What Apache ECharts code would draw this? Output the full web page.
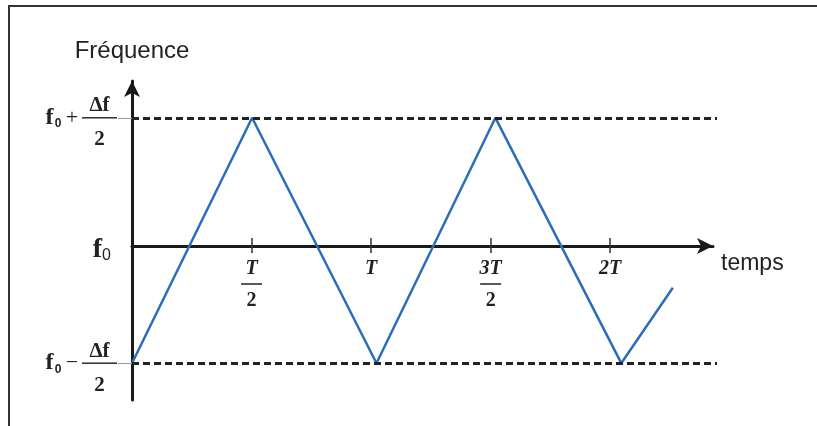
<!DOCTYPE html>
<html>
<head>
<meta charset="utf-8">
<script src="https://cdn.jsdelivr.net/npm/echarts@6/dist/echarts.min.js"></script>
<style>
  body { margin: 0; background: #fff; }
  #wrap { position: relative; width: 817px; height: 426px; overflow: hidden; }
  #frame { position: absolute; left: 8px; top: 5px; right: -4px; bottom: -4px; border-top: 2px solid #333; border-left: 2px solid #333; }
  #chart { position: absolute; left: 0; top: 0; width: 817px; height: 426px; }
</style>
</head>
<body>
<div id="wrap">
  <div id="frame"></div>
  <div id="chart"></div>
</div>
<script>
// time in units of T, frequency in units of Δf/2 around f0
const timeTicks = [0.5, 1, 1.5, 2];
const timeLabels = ['{n|T}\n{bar|}\n{d|2}', '{n|T}', '{n|3T}\n{bar|}\n{d|2}', '{n|2T}'];
const freqTicks = [1, 0, -1];
const freqLabels = [
  '{t|}\n{a|}{num|Δf}\n{f|f}{s|0}{op|+}{bar|}\n{a|}{den|2}',
  '{fz|f}{sz|0}',
  '{t|}\n{a|}{num|Δf}\n{f|f}{s|0}{op|−}{bar|}\n{a|}{den|2}'
];
const freqLevels = [1, -1];
const waveT = [0, 0.503, 1.024, 1.522, 2.049, 2.265];
const waveF = [-1, 1, -1, 1, -1, -0.385];

const serif = '"Liberation Serif", "DejaVu Serif", serif';
const sans = '"Liberation Sans", Arial, sans-serif';

var myChart = echarts.init(document.getElementById('chart'));

var tickStyle = { color: '#333', width: 1.5 };

var option = {
  animation: false,
  grid: [
    // plot area: curve, levels, frequency axis
    { left: 132, right: 100, top: 81, bottom: 26, outerBoundsMode: 'none', containLabel: false },
    // time axis drawn on the f0 line
    { left: 132, right: 104, top: 81, bottom: 180, outerBoundsMode: 'none', containLabel: false }
  ],
  xAxis: [{
    gridIndex: 0,
    type: 'value',
    min: 0,
    max: 2.45,
    show: false
  }, {
    gridIndex: 1,
    type: 'value',
    min: 0,
    max: 2.43,
    position: 'bottom',
    name: 'temps',
    nameLocation: 'end',
    nameGap: 8,
    nameTextStyle: { fontFamily: sans, fontSize: 23, color: '#222', verticalAlign: 'top', padding: [6, 0, 0, 0] },
    splitLine: { show: false },
    axisLine: { onZero: false, symbol: ['none', 'arrow'], symbolSize: [12, 16], lineStyle: { color: '#1a1a1a', width: 3 } },
    axisTick: { customValues: timeTicks, length: 7, lineStyle: tickStyle },
    axisLabel: {
      customValues: timeTicks,
      margin: 11,
      formatter: function (v) { return timeLabels[timeTicks.indexOf(v)] || ''; },
      rich: {
        n: { fontFamily: serif, fontStyle: 'italic', fontWeight: 'bold', fontSize: 20, color: '#222', lineHeight: 24, align: 'center' },
        bar: { width: 21, height: 0, borderColor: '#222', borderWidth: 1, lineHeight: 6, align: 'center' },
        d: { fontFamily: serif, fontWeight: 'bold', fontSize: 20, color: '#222', lineHeight: 28, align: 'center' }
      }
    }
  }, {
    gridIndex: 1,
    type: 'value',
    min: 0,
    max: 2.43,
    position: 'bottom',
    splitLine: { show: false },
    axisLine: { show: false, onZero: false },
    axisTick: { inside: true, customValues: timeTicks, length: 8, lineStyle: tickStyle },
    axisLabel: { show: false }
  }],
  yAxis: [{
    gridIndex: 0,
    type: 'value',
    min: -1.3,
    max: 1.3,
    name: 'Fréquence',
    nameLocation: 'end',
    nameGap: 18,
    nameTextStyle: { fontFamily: sans, fontSize: 24, color: '#222' },
    splitLine: { show: false },
    axisLine: { onZero: false, symbol: ['none', 'arrow'], symbolSize: [12, 16], lineStyle: { color: '#1a1a1a', width: 3 } },
    axisTick: { customValues: freqLevels, length: 14, lineStyle: { color: '#999', width: 1 } },
    axisLabel: {
      customValues: freqTicks,
      margin: 15,
      formatter: function (v) { return freqLabels[freqTicks.indexOf(v)] || ''; },
      rich: {
        t: { width: 72, lineHeight: 20 },
        a: { width: 37, lineHeight: 22, align: 'center' },
        num: { fontFamily: serif, fontWeight: 'bold', fontSize: 21, color: '#222', width: 35, lineHeight: 22, align: 'center' },
        den: { fontFamily: serif, fontWeight: 'bold', fontSize: 21, color: '#222', width: 35, lineHeight: 42, align: 'center' },
        f: { fontFamily: serif, fontWeight: 'bold', fontSize: 24, color: '#222', width: 9, lineHeight: 2, align: 'center' },
        s: { fontFamily: sans, fontWeight: 'bold', fontSize: 12, color: '#222', width: 8, lineHeight: 2, align: 'center', padding: [12, 0, 0, 0] },
        op: { fontFamily: serif, fontSize: 22, color: '#222', width: 20, lineHeight: 2, align: 'center' },
        bar: { width: 35, height: 0, borderColor: '#222', borderWidth: 1, lineHeight: 2, align: 'center' },
        fz: { fontFamily: serif, fontWeight: 'bold', fontSize: 28, color: '#222', align: 'center', padding: [18, 0, 0, 0] },
        sz: { fontFamily: sans, fontSize: 16, color: '#222', align: 'center', padding: [30, 6, 0, 0] }
      }
    }
  }, {
    gridIndex: 1,
    type: 'value',
    min: 0,
    max: 1,
    show: false
  }],
  series: [{
    type: 'line',
    xAxisIndex: 0,
    yAxisIndex: 0,
    data: waveT.map(function (t, i) { return [t, waveF[i]]; }),
    symbol: 'none',
    lineStyle: { color: '#2a6ebb', width: 2.5 },
    markLine: {
      silent: true,
      symbol: 'none',
      label: { show: false },
      lineStyle: { color: '#222', type: [7, 4], width: 3 },
      data: freqLevels.map(function (f) { return { yAxis: f }; })
    }
  }]
};

myChart.setOption(option);
window.addEventListener('resize', function () {
  myChart.resize();
});
</script>
</body>
</html>
